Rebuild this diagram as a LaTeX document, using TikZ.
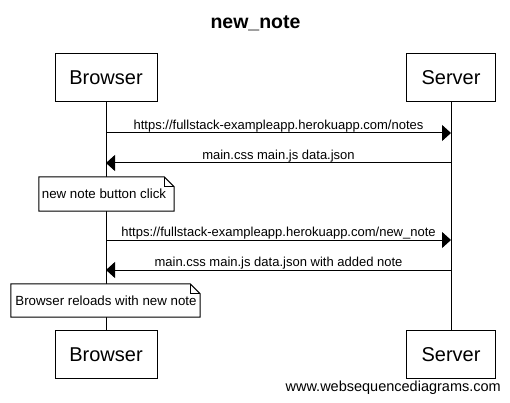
\documentclass[tikz,border=0pt]{standalone}
\usepackage{fontspec}
\setmainfont{Liberation Sans}
\usetikzlibrary{arrows.meta,calc}
\tikzset{
  actor/.style={draw, line width=1pt, fill=white, minimum height=48pt, font=\fontsize{20}{24}\selectfont, inner sep=0pt},
  life/.style={line width=1pt},
  msg/.style={line width=1pt, -{Triangle[length=9pt,width=16pt]}},
  msglabel/.style={font=\fontsize{13}{15}\selectfont, inner sep=0pt},
  notelabel/.style={font=\fontsize{13.3}{15}\selectfont, inner sep=0pt},
  notetext/.style={inner sep=0pt, minimum height=34pt},
  noteframe/.style={draw, line width=1pt, fill=white},
}
\begin{document}
\begin{tikzpicture}[x=1pt,y=-1pt]
\useasboundingbox (0,0) rectangle (510,403);
\node[font=\bfseries\fontsize{19.5}{22}\selectfont] (title) at (255.5,23) {new\_note};
% actors
\node[actor, minimum width=102pt] (bt) at (106,78) {Browser};
\node[actor, minimum width=89pt] (st) at (451,78) {Server};
\node[actor, minimum width=102pt] (bb) at (106,354.5) {Browser};
\node[actor, minimum width=89pt] (sb) at (451,354.5) {Server};
% lifelines
\draw[life] (bt.south) -- (bb.north);
\draw[life] (st.south) -- (sb.north);
% messages
\coordinate (a1s) at (106,133); \coordinate (a1e) at (451,133);
\coordinate (a2s) at (451,163); \coordinate (a2e) at (106,163);
\coordinate (a3s) at (106,240); \coordinate (a3e) at (451,240);
\coordinate (a4s) at (451,270); \coordinate (a4e) at (106,270);
\draw[msg] (a1s) -- (a1e);
\draw[msg] (a2s) -- (a2e);
\draw[msg] (a3s) -- (a3e);
\draw[msg] (a4s) -- (a4e);
\node[msglabel] (l1) at (278.5,126) {https://fullstack-exampleapp.herokuapp.com/notes};
\node[msglabel] (l2) at (278.5,156) {main.css main.js data.json};
\node[msglabel] (l3) at (278.5,233) {https://fullstack-exampleapp.herokuapp.com/new\_note};
\node[msglabel] (l4) at (278.5,263) {main.css main.js data.json with added note};
% notes
\node[notetext, minimum width=135pt] (n1) at (106.5,194) {};
\draw[noteframe] (n1.south west) -- (n1.north west) -- ($(n1.north east)+(-10,0)$) -- ($(n1.north east)+(0,10)$) -- (n1.south east) -- cycle;
\draw[line width=0.8pt] ($(n1.north east)+(-10,0)$) -- ($(n1.north east)+(-10,10)$) -- ($(n1.north east)+(0,10)$);
\node[notelabel] (n1t) at (104,194) {new note button click};
\node[notetext, minimum width=189pt, minimum height=33pt] (n2) at (105.5,300.5) {};
\draw[noteframe] (n2.south west) -- (n2.north west) -- ($(n2.north east)+(-10,0)$) -- ($(n2.north east)+(0,10)$) -- (n2.south east) -- cycle;
\draw[line width=0.8pt] ($(n2.north east)+(-10,0)$) -- ($(n2.north east)+(-10,10)$) -- ($(n2.north east)+(0,10)$);
\node[notelabel] (n2t) at (106,301) {Browser reloads with new note};
% watermark
\node[font=\fontsize{14.5}{17}\selectfont, anchor=east, inner sep=0pt] (wm) at (501,388) {www.websequencediagrams.com};
\end{tikzpicture}
\end{document}
